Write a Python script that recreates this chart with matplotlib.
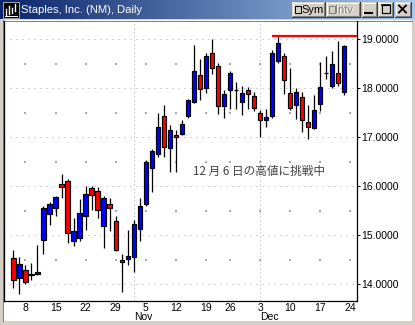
import numpy as np
import pandas as pd
import matplotlib
matplotlib.use("Agg")
import matplotlib.pyplot as plt
from matplotlib.patches import Rectangle

# ---------------- data ----------------
title = "Staples, Inc. (NM), Daily"
annotation = "12 月 6 日の高値に挑戦中"

opens = [14.53, 14.12, 14.29, 14.19, 14.22, 14.91, 15.43, 15.55, 16.05, 16.10,
         14.88, 14.94, 15.39, 15.96, 15.90, 15.18, 15.63, 15.29, 14.49, 14.51,
         14.55, 15.12, 15.64, 16.37, 16.65, 17.43, 16.78, 17.04, 17.06, 17.43,
         17.73, 18.27, 18.00, 18.73, 18.45, 17.63, 17.96, 17.96, 17.73, 17.96,
         17.84, 17.49, 17.35, 17.43, 18.55, 18.65, 17.90, 17.65, 17.82, 17.31,
         17.18, 17.67, 18.31, 18.04, 18.31, 17.92]
highs = [14.69, 14.55, 14.39, 14.43, 14.80, 15.60, 15.67, 15.80, 16.25, 16.15,
         15.35, 15.74, 16.01, 16.01, 15.98, 15.80, 15.76, 15.39, 14.62, 15.11,
         15.31, 15.76, 16.53, 16.76, 17.50, 17.65, 17.25, 17.15, 17.36, 17.78,
         18.88, 18.59, 18.73, 19.01, 18.52, 17.96, 18.35, 18.12, 18.04, 18.02,
         17.92, 17.55, 17.57, 18.78, 19.06, 18.71, 18.41, 18.00, 17.92, 17.65,
         17.86, 18.53, 18.65, 18.76, 18.96, 18.88]
lows = [13.93, 13.81, 14.01, 14.08, 14.18, 14.62, 15.20, 15.40, 15.76, 14.85,
        14.78, 14.88, 15.11, 15.52, 15.36, 14.75, 15.08, 14.67, 13.84, 14.39,
        14.26, 14.89, 15.60, 15.89, 16.60, 16.60, 16.30, 16.30, 17.04, 17.40,
        17.69, 17.76, 17.90, 18.29, 17.47, 17.39, 17.57, 17.58, 17.45, 17.58,
        17.53, 17.01, 17.20, 17.40, 18.51, 17.88, 17.55, 17.37, 17.10, 16.96,
        17.16, 17.53, 18.18, 18.00, 18.04, 17.86]
closes = [14.08, 14.41, 14.04, 14.20, 14.25, 15.55, 15.63, 15.78, 15.98, 15.04,
          15.09, 15.46, 15.84, 15.82, 15.52, 15.76, 15.55, 14.69, 14.45, 14.57,
          15.24, 15.59, 16.49, 16.73, 17.22, 16.80, 17.14, 17.00, 17.27, 17.76,
          18.35, 17.98, 18.65, 18.41, 17.63, 17.88, 18.31, 17.96, 17.90, 17.88,
          17.59, 17.35, 17.41, 18.73, 18.92, 18.16, 17.59, 17.92, 17.35, 17.20,
          17.55, 18.02, 18.31, 18.49, 18.10, 18.86]

resistance = 19.07          # high of Dec 6
resistance_start = "2001-12-05"

y_ticks = [14, 15, 16, 17, 18, 19]

# trading calendar (Thanksgiving closed)
cal = pd.bdate_range("2001-10-04", "2001-12-24")
cal = cal[cal != pd.Timestamp("2001-11-22")]
n = len(opens)
x = np.arange(n)

# ---------------- figure ----------------
W, H = 415, 325
fig = plt.figure(figsize=(W / 100, H / 100), dpi=100)

bg = fig.add_axes([0, 0, 1, 1], zorder=0)
bg.axis("off")
grey = "#D4D0C8"
bg.add_patch(Rectangle((0, 0), W, H, facecolor=grey, edgecolor="none", zorder=-3))
bg.add_patch(Rectangle((3, 20), 409, 301, facecolor="white", edgecolor="none", zorder=-2))
bg.plot([2.5, 2.5], [20, 321], color="#808080", lw=0.72, zorder=-1)
bg.plot([2.5, 412], [20.5, 20.5], color="#808080", lw=0.72, zorder=-1)

# title bar gradient
grad = np.linspace(0, 1, 256)
c0 = np.array([10, 36, 106]) / 255.0
c1 = np.array([166, 202, 240]) / 255.0
img = (c0[None, :] * (1 - grad[:, None]) + c1[None, :] * grad[:, None])[None, :, :]
bg.imshow(img, extent=(0, W, 19, 0), aspect="auto", interpolation="bilinear", zorder=0)
bg.set_xlim(0, W)
bg.set_ylim(H, 0)

# icon
bg.add_patch(Rectangle((3, 2), 16, 16, facecolor="black", edgecolor="#C0C0C0", lw=0.6, zorder=1))
for xx, y0, y1 in [(6, 9, 15), (9, 6, 14), (12, 8, 13), (15, 4, 11)]:
    bg.plot([xx, xx], [y0, y1], color="white", lw=1.0, zorder=2)
bg.plot([5, 17], [16, 16], color="white", lw=0.7, zorder=2)

bg.text(21, 9.8, title, color="white", fontsize=8.1, family="Liberation Sans",
        va="center", ha="left", zorder=3)


def button(x0, x1, y0, y1):
    bg.add_patch(Rectangle((x0, y0), x1 - x0, y1 - y0, facecolor=grey, edgecolor="none", zorder=1))
    bg.plot([x0, x1], [y0 + 0.5, y0 + 0.5], color="white", lw=0.72, zorder=2)
    bg.plot([x0 + 0.5, x0 + 0.5], [y0, y1], color="white", lw=0.72, zorder=2)
    bg.plot([x0, x1], [y1 - 0.5, y1 - 0.5], color="#404040", lw=0.72, zorder=2)
    bg.plot([x1 - 0.5, x1 - 0.5], [y0, y1], color="#404040", lw=0.72, zorder=2)
    bg.plot([x0 + 1, x1 - 1], [y1 - 1.5, y1 - 1.5], color="#808080", lw=0.72, zorder=2)
    bg.plot([x1 - 1.5, x1 - 1.5], [y0 + 1, y1 - 1], color="#808080", lw=0.72, zorder=2)


button(292, 325, 2, 17)
bg.add_patch(Rectangle((294.5, 5.5), 6, 7, facecolor="none", edgecolor="black", lw=0.72, zorder=2))
bg.text(301, 9.6, "Sym", fontsize=8, family="Liberation Sans", va="center", ha="left", color="black", zorder=3)
button(326, 360, 2, 17)
bg.add_patch(Rectangle((328.5, 5.5), 6, 7, facecolor="none", edgecolor="#808080", lw=0.72, zorder=2))
bg.text(336, 10.4, "Intv", fontsize=8, family="Liberation Sans", va="center", ha="left", color="white", zorder=3)
bg.text(335, 9.6, "Intv", fontsize=8, family="Liberation Sans", va="center", ha="left", color="#808080", zorder=3)
button(362, 377, 2, 17)
bg.plot([365, 372], [13, 13], color="black", lw=1.5, zorder=3)
button(378, 393, 2, 17)
bg.add_patch(Rectangle((381.5, 4.5), 8, 8, facecolor="none", edgecolor="black", lw=0.8, zorder=3))
bg.plot([381.5, 389.5], [5.2, 5.2], color="black", lw=1.2, zorder=3)
button(395, 411, 2, 17)
bg.plot([399, 406], [5.5, 12.5], color="black", lw=1.3, zorder=3)
bg.plot([399, 406], [12.5, 5.5], color="black", lw=1.3, zorder=3)

# ---------------- chart ----------------
L, R, T, B = 3.5, 357, 21, 301
ax = fig.add_axes([L / W, 1 - B / H, (R - L) / W, (B - T) / H], zorder=1)
ax.set_facecolor("none")
ax.set_xlim(-1.65, 57.12)
ax.set_ylim(13.659, 19.373)

gc = "#A8A8A8"
# grid: dotted at whole dollars
for lv in y_ticks:
    ax.axhline(lv, color=gc, lw=0.72, linestyle=(0, (1, 5)), zorder=0.5)
mondays = [i for i, d in enumerate(cal) if d.weekday() == 0]
half_levels = [14.5, 15.5, 16.5, 17.5, 18.5]
mx, my = np.meshgrid(mondays, half_levels)
ax.scatter(mx.ravel(), my.ravel(), s=0.6, marker="s", color=gc, linewidths=0, zorder=0.5)
month_starts = [i for i in range(1, len(cal)) if cal[i].month != cal[i - 1].month]
for m in month_starts:
    ax.axvline(m, color=gc, lw=0.72, linestyle=(0, (1, 3)), zorder=0.5)

# candles
ax.vlines(x, lows, highs, color="black", lw=0.9, zorder=2)
bw = 0.72
for i in range(n):
    o, c = opens[i], closes[i]
    if abs(c - o) < 1e-9:
        ax.hlines(o, i - bw / 2, i + bw / 2, color="black", lw=0.9, zorder=3)
    else:
        ax.bar(i, abs(c - o), bottom=min(o, c), width=bw,
               color="#0000FF" if c > o else "#FF0000",
               edgecolor="black", linewidth=0.85, zorder=3)

# resistance line (Dec 6 high)
rs = list(cal).index(pd.Timestamp(resistance_start))
ax.hlines(resistance, rs, 57.12, color="#FF0000", lw=1.6, zorder=4)

ax.text(29.8, 16.31, annotation, fontsize=8.4, color="#404040",
        family=["Noto Sans CJK JP", "DejaVu Sans"], ha="left", va="center", zorder=5)

# axes styling
ax.spines["top"].set_visible(False)
for s in ["left", "bottom", "right"]:
    ax.spines[s].set_color("black")
    ax.spines[s].set_linewidth(0.9)

ax.yaxis.tick_right()
ax.set_yticks(y_ticks)
ax.set_yticklabels([f"{v:.4f}" for v in y_ticks], fontsize=7.5, family="Liberation Sans")
ax.tick_params(axis="y", direction="out", length=2, width=0.72, pad=1, colors="black")

tick_pos = mondays
ax.set_xticks(tick_pos)
ax.set_xticklabels([str(cal[i].day) for i in tick_pos], fontsize=7.5, family="Liberation Sans")
ax.tick_params(axis="x", length=0, pad=1.5)

for m in month_starts:
    ax.text(m, -0.056, cal[m].strftime("%b"), transform=ax.get_xaxis_transform(),
            fontsize=7.5, family="Liberation Sans", ha="left", va="center")

fig.savefig("out.png", dpi=100)
